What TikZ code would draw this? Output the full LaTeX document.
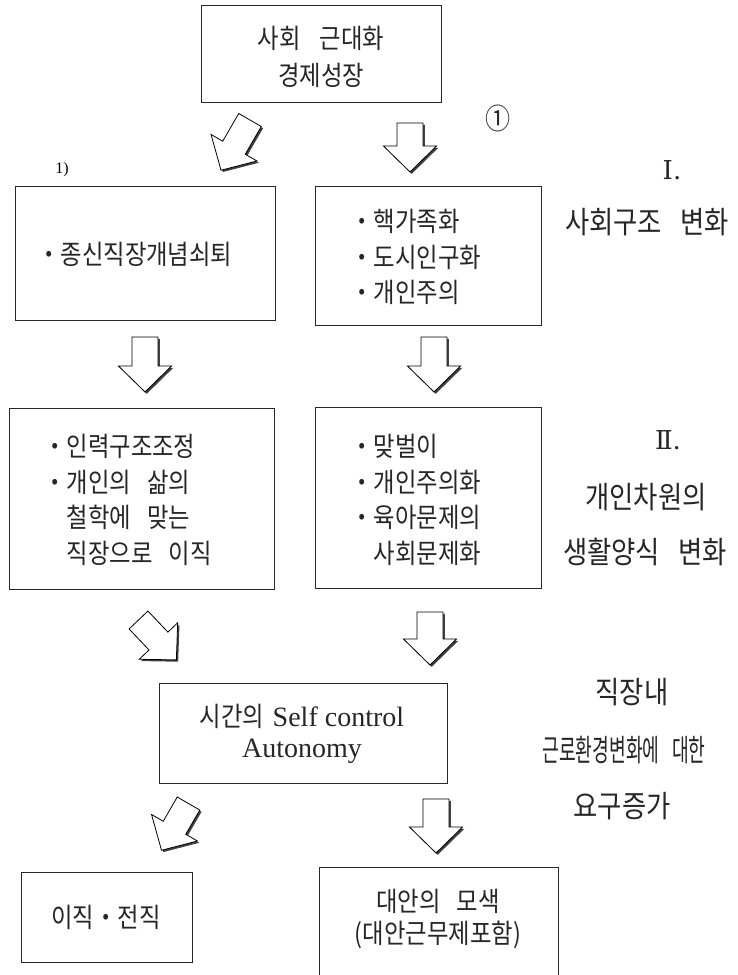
\documentclass[tikz,border=0pt]{standalone}
\usepackage{fontspec}
\setmainfont{Liberation Serif}
\newfontfamily\kr[FakeStretch=0.865]{Noto Sans CJK KR}
\newfontfamily\rom{DejaVu Serif}
\newcommand\ksp{\hspace{0.6em}}
\newcommand\barrow[4]{%
  \begin{scope}[shift={(#1+1.8,#2+1.8)},rotate=#3]
    \fill[arrowshadow] (-13,0) -- (13,0) -- (13,#4-26) -- (26.5,#4-26) -- (0,#4) -- (-26.5,#4-26) -- (-13,#4-26) -- cycle;
  \end{scope}
  \begin{scope}[shift={(#1,#2)},rotate=#3]
    \filldraw[arrowbody] (-13,0) -- (13,0) -- (13,#4-26) -- (26.5,#4-26) -- (0,#4) -- (-26.5,#4-26) -- (-13,#4-26) -- cycle;
  \end{scope}}
\begin{document}
\begin{tikzpicture}[x=1pt,y=-1pt]
\tikzset{
  box/.style={draw=black!85, line width=1pt, rectangle, inner sep=0pt, outer sep=0pt, anchor=north west},
  ktext/.style={font=\kr\fontsize{27}{35.5}\selectfont, inner sep=0pt, text=black!85},
  ltext/.style={font=\kr\fontsize{30.5}{36}\selectfont, inner sep=0pt, text=black!85},
  arrowshadow/.style={fill=black!75},
  arrowbody/.style={fill=white, draw=black, line width=0.8pt, line join=miter},
}
\useasboundingbox (0,0) rectangle (737,975);
\clip (0,0) rectangle (737,975);

% boxes
\node[box, minimum width=240pt, minimum height=97pt] (top) at (201,5) {};
\node[box, minimum width=260pt, minimum height=134pt] (l1) at (15,186) {};
\node[box, minimum width=226pt, minimum height=139pt] (r1) at (315,186) {};
\node[box, minimum width=265pt, minimum height=181pt] (l2) at (9,408) {};
\node[box, minimum width=226pt, minimum height=181pt] (r2) at (315,407) {};
\node[box, minimum width=288pt, minimum height=100pt] (mid) at (159,683) {};
\node[box, minimum width=171pt, minimum height=90pt] (bl) at (21,872) {};
\node[box, minimum width=239pt, minimum height=130pt] (br) at (319,867) {};

% box texts
\node[ktext, align=center, font=\kr\fontsize{27}{37.5}\selectfont] (toptext) at (321,57) {사회\hspace{0.7em}근대화\\경제성장};
\node[ktext, anchor=west] (l1text) at (37,254) {・종신직장개념쇠퇴};
\node[ktext, align=left, anchor=west] (r1text) at (350,257) {・핵가족화\\・도시인구화\\・개인주의};
\node[ktext, align=left, anchor=west] (l2text) at (43,500) {・인력구조조정\\・개인의\ksp 삶의\\\phantom{・}철학에\ksp 맞는\\\phantom{・}직장으로\ksp 이직};
\node[ktext, align=left, anchor=west] (r2text) at (350,500) {・맞벌이\\・개인주의화\\・육아문제의\\\phantom{・}사회문제화};
\node[inner sep=0pt, align=center, font=\fontsize{28}{31}\selectfont, text=black!85] (midtext) at (302,734) {{\kr\fontsize{27}{31}\selectfont 시간의}\hspace{0.3em}Self control\\Autonomy};
\node[ktext] (bltext) at (106,917) {이직・전직};
\node[ktext, align=center, font=\kr\fontsize{27}{32}\selectfont] (brtext) at (438,919) {대안의\ksp 모색\\(대안근무제포함)};

% side labels
\node[inner sep=0pt, font=\kr\fontsize{29}{29}\selectfont, text=black!85] (circ1) at (498,118) {①};
\node[inner sep=0pt, font=\fontsize{16}{16}\selectfont] (fn1) at (62,170) {1)};
\node[inner sep=0pt, font=\rom\fontsize{26}{26}\selectfont, text=black!85] (num1) at (672,170) {Ⅰ.};
\node[ltext] (lab1) at (647,222) {사회구조\ksp 변화};
\node[inner sep=0pt, font=\rom\fontsize{26}{26}\selectfont, text=black!85] (num2) at (668,440) {Ⅱ.};
\node[ltext] (lab2a) at (646,497) {개인차원의};
\node[ltext] (lab2b) at (645,552) {생활양식\ksp 변화};
\node[ltext] (lab3a) at (632,692) {직장내};
\node[ltext] (lab3b) at (624,750) {\scalebox{0.69}[1]{근로환경변화에\ksp 대한}};
\node[ltext] (lab3c) at (622,806) {요구증가};

% block arrows
\barrow{250}{120}{-30}{58}
\barrow{410}{123}{0}{49}
\barrow{145}{337}{0}{55}
\barrow{434}{337}{0}{55}
\barrow{138.5}{620}{43.5}{55}
\barrow{430}{612}{0}{53}
\barrow{188.5}{803.5}{-30}{54}
\barrow{436}{799}{0}{54}
\end{tikzpicture}
\end{document}
